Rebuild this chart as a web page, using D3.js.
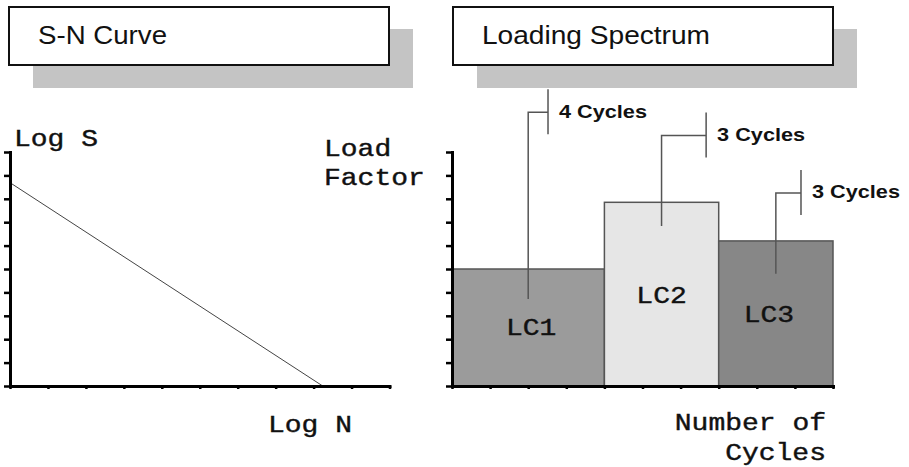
<!DOCTYPE html>
<html>
<head>
<meta charset="utf-8">
<script src="https://cdn.jsdelivr.net/npm/d3@7"></script>
<style>
  body { margin: 0; background: #fff; }
  svg { display: block; }
  .mono { font-family: "Courier New", "Liberation Mono", monospace; font-size: 23px; fill: #111; stroke: #111; stroke-width: 0.4px; }
  .title { font-family: Arial, "Liberation Sans", sans-serif; font-size: 25px; fill: #111; }
  .callout { font-family: Arial, "Liberation Sans", sans-serif; font-size: 19px; font-weight: bold; fill: #111; }
</style>
</head>
<body>
<svg id="chart"></svg>
<script>
// S-N curve (log-log straight line)
const snLogN = [0, 8.24];
const snLogS = [8.69, 0];

// loading spectrum blocks
const loadCases = ['LC1', 'LC2', 'LC3'];
const cycles = [4, 3, 3];
const loadFactor = [5.0, 7.85, 6.2];
const caseFill = ['#9b9b9b', '#e6e6e6', '#878787'];

// cycle count callouts
const calloutText = ['4 Cycles', '3 Cycles', '3 Cycles'];
const calloutFrom = [3.72, 6.84, 4.8];    // load level where the leader starts
const calloutElbow = [11.7, 10.7, 8.25];  // load level of the horizontal jog
const calloutReach = [2.52, 6.67, 9.16];  // cycle position of the short bar

const tickValues = d3.range(0, 11);

const width = 909, height = 467;
const svg = d3.select('#chart').attr('width', width).attr('height', height);

const y = d3.scaleLinear().domain([0, 10]).range([386, 152]);
const xLeft = d3.scaleLinear().domain([0, 10]).range([10, 389.5]);
const xRight = d3.scaleLinear().domain([0, 10]).range([452, 833]);

const MONO_CELL = 16.8;
function monoText(g, str, x, yy, anchor) {
  return g.append('text').attr('class', 'mono')
    .attr('x', x).attr('y', yy)
    .attr('text-anchor', anchor || 'start')
    .attr('textLength', str.length * MONO_CELL)
    .attr('lengthAdjust', 'spacingAndGlyphs')
    .text(str);
}

// title boxes with drop shadow
function titleBox(x, label, textLen) {
  svg.append('rect').attr('x', x + 24).attr('y', 29).attr('width', 380).attr('height', 59)
    .attr('fill', '#c4c4c4');
  svg.append('rect').attr('x', x).attr('y', 7).attr('width', 380).attr('height', 58)
    .attr('fill', '#fff').attr('stroke', '#111').attr('stroke-width', 2);
  svg.append('text').attr('class', 'title')
    .attr('x', x + 29).attr('y', 44)
    .attr('textLength', textLen).attr('lengthAdjust', 'spacingAndGlyphs')
    .text(label);
}
titleBox(9, 'S-N Curve', 129);
titleBox(453, 'Loading Spectrum', 228);

function drawAxes(xs) {
  const gy = svg.append('g').attr('transform', `translate(${xs(0)},0)`)
    .call(d3.axisLeft(y).tickValues(tickValues).tickSize(6).tickSizeOuter(0).tickFormat(''));
  const gx = svg.append('g').attr('transform', `translate(0,${y(0)})`)
    .call(d3.axisBottom(xs).tickValues(tickValues).tickSize(3).tickSizeOuter(0).tickFormat(''));
  [gy, gx].forEach(g => {
    g.select('.domain').attr('stroke', '#000').attr('stroke-width', 3).attr('stroke-linecap', 'square');
    g.selectAll('.tick line').attr('stroke', '#000').attr('stroke-width', 2.5);
  });
}

// ---- left panel: S-N curve
const left = svg.append('g');
left.append('path')
  .datum(d3.zip(snLogN, snLogS))
  .attr('fill', 'none').attr('stroke', '#444').attr('stroke-width', 1)
  .attr('d', d3.line().x(d => xLeft(d[0])).y(d => y(d[1])));
drawAxes(xLeft);
monoText(left, 'Log S', 14, 146);
monoText(left, 'Log N', 268, 432);

// ---- right panel: loading spectrum
const right = svg.append('g');
const starts = d3.cumsum([0].concat(cycles.slice(0, -1)));
const blocks = loadCases.map((name, i) => ({
  name, x0: starts[i], x1: starts[i] + cycles[i], lf: loadFactor[i], fill: caseFill[i]
}));

right.selectAll('rect.block').data(blocks).join('rect')
  .attr('class', 'block')
  .attr('x', d => xRight(d.x0)).attr('y', d => y(d.lf))
  .attr('width', d => xRight(d.x1) - xRight(d.x0))
  .attr('height', d => y(0) - y(d.lf))
  .attr('fill', d => d.fill).attr('stroke', '#555').attr('stroke-width', 1.5);

// block labels (baseline level within each block)
const labelLevel = [2.18, 3.55, 2.74];
const labelShift = [3, 0, -7];
blocks.forEach((d, i) => {
  monoText(right, d.name, xRight((d.x0 + d.x1) / 2) + labelShift[i], y(labelLevel[i]), 'middle');
});

// leaders and cycle counts
blocks.forEach((d, i) => {
  const xm = xRight((d.x0 + d.x1) / 2);
  const xr = xRight(calloutReach[i]);
  const ye = y(calloutElbow[i]);
  right.append('path')
    .attr('fill', 'none').attr('stroke', '#555').attr('stroke-width', 1.5)
    .attr('d', `M${xm},${y(calloutFrom[i])}V${ye}H${xr}M${xr},${ye - 23}V${ye + 22}`);
  right.append('text').attr('class', 'callout')
    .attr('x', xr + 11).attr('y', ye + 5.5)
    .attr('textLength', 88).attr('lengthAdjust', 'spacingAndGlyphs')
    .text(calloutText[i]);
});

drawAxes(xRight);

monoText(right, 'Load', 324, 156);
monoText(right, 'Factor', 324, 185);
monoText(right, 'Number of', 826, 430, 'end');
monoText(right, 'Cycles', 826, 460, 'end');
</script>
</body>
</html>
